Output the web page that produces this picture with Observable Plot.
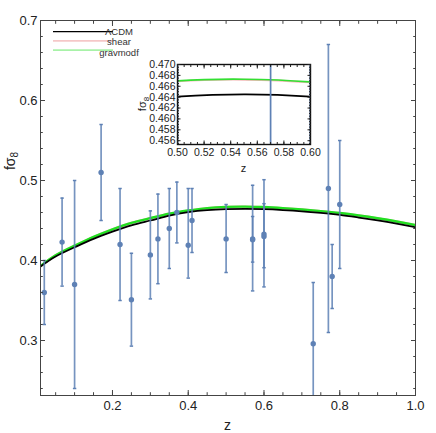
<!DOCTYPE html>
<html><head><meta charset="utf-8">
<script src="https://cdn.jsdelivr.net/npm/d3@7"></script>
<script src="https://cdn.jsdelivr.net/npm/@observablehq/plot@0.6"></script>
<style>
body{margin:0;background:#fff;}
#wrap{position:relative;width:436px;height:433px;font-family:"Liberation Sans",Arial,sans-serif;}
#inset{position:absolute;left:130px;top:55px;}
</style></head><body><div id="wrap"><div id="main"></div><div id="inset"></div></div>
<script>
// observational data
const zObs  = [0.02, 0.067, 0.10, 0.17, 0.22, 0.25, 0.30, 0.32, 0.35, 0.37, 0.40, 0.41, 0.50, 0.57, 0.57, 0.60, 0.60, 0.73, 0.77, 0.78, 0.80];
const fObs  = [0.36, 0.423, 0.37, 0.51, 0.42, 0.351, 0.407, 0.427, 0.44, 0.460, 0.419, 0.45, 0.427, 0.427, 0.426, 0.433, 0.43, 0.296, 0.49, 0.38, 0.47];
const loObs = [0.32, 0.368, 0.24, 0.45, 0.35, 0.293, 0.352, 0.371, 0.39, 0.422, 0.378, 0.41, 0.385, 0.362, 0.398, 0.367, 0.391, 0.2195, 0.31, 0.34, 0.39];
const hiObs = [0.40, 0.478, 0.50, 0.57, 0.49, 0.409, 0.462, 0.483, 0.49, 0.498, 0.49, 0.49, 0.47, 0.494, 0.455, 0.501, 0.471, 0.3725, 0.67, 0.42, 0.55];

// model curves
const zCurve   = [0.01, 0.05, 0.10, 0.15, 0.20, 0.25, 0.30, 0.35, 0.40, 0.45, 0.50, 0.55, 0.60, 0.65, 0.70, 0.75, 0.80, 0.85, 0.90, 0.95, 1.00];
const lcdm     = [0.3925, 0.405, 0.4165, 0.427, 0.436, 0.444, 0.450, 0.456, 0.4605, 0.4630, 0.4641, 0.4645, 0.4641, 0.4630, 0.4615, 0.4595, 0.457, 0.4537, 0.4502, 0.4462, 0.4417];
const shear    = [0.3928, 0.4064, 0.4184, 0.4294, 0.4389, 0.4469, 0.4529, 0.4584, 0.4624, 0.4654, 0.4669, 0.4672, 0.4667, 0.4654, 0.4637, 0.4616, 0.4592, 0.4562, 0.4527, 0.4487, 0.4442];
const gravmodf = [0.393, 0.4065, 0.4185, 0.4295, 0.439, 0.447, 0.453, 0.4585, 0.4625, 0.4655, 0.4670, 0.4673, 0.4668, 0.4655, 0.4638, 0.4617, 0.4593, 0.4563, 0.4528, 0.4488, 0.4443];

const seriesNames = ["ΛCDM", "shear", "gravmodf"];
const xMajor = [0.2, 0.4, 0.6, 0.8, 1.0];
const yMajor = [0.3, 0.4, 0.5, 0.6, 0.7];
const xInsetMajor = [0.50, 0.52, 0.54, 0.56, 0.58, 0.60];
const yInsetMajor = [0.456, 0.458, 0.460, 0.462, 0.464, 0.466, 0.468, 0.470];

const obs = zObs.map((z, i) => ({z, f: fObs[i], lo: loObs[i], hi: hiObs[i]}));
const curves = zCurve.map((z, i) => ({z, lcdm: lcdm[i], shear: shear[i], grav: gravmodf[i]}));

const blue = "#5E81B5";
const font = "Liberation Sans, Arial, sans-serif";
const xMinor = d3.range(0.05, 1.0001, 0.05);
const yMinor = d3.range(0.24, 0.7001, 0.02);
const xInsetMinor = d3.range(0.5, 0.6001, 0.005);
const yInsetMinor = d3.range(0.4555, 0.4701, 0.0005);
const blank = () => "";

function frameTicks(xMaj, xMin, yMaj, yMin, big, small, color) {
  const o = {stroke: color, label: null, tickFormat: blank};
  return [
    Plot.axisX(xMaj, {...o, anchor: "bottom", tickSize: -big}),
    Plot.axisX(xMin, {...o, anchor: "bottom", tickSize: -small}),
    Plot.axisX(xMaj, {...o, anchor: "top", tickSize: -big}),
    Plot.axisX(xMin, {...o, anchor: "top", tickSize: -small}),
    Plot.axisY(yMaj, {...o, anchor: "left", tickSize: -big}),
    Plot.axisY(yMin, {...o, anchor: "left", tickSize: -small}),
    Plot.axisY(yMaj, {...o, anchor: "right", tickSize: -big}),
    Plot.axisY(yMin, {...o, anchor: "right", tickSize: -small})
  ];
}

const main = Plot.plot({
  width: 436, height: 433,
  marginLeft: 40, marginRight: 21, marginTop: 20, marginBottom: 38,
  style: {fontFamily: font, fontSize: "13px", background: "white", color: "#222"},
  x: {domain: [0.01, 1]},
  y: {domain: [0.23125, 0.7]},
  marks: [
    Plot.line(curves, {x: "z", y: "shear", stroke: "#f3b8b8", strokeWidth: 2.4, curve: "natural", clip: true}),
    Plot.line(curves, {x: "z", y: "grav", stroke: "#22e022", strokeWidth: 2.4, curve: "natural", clip: true}),
    Plot.line(curves, {x: "z", y: "lcdm", stroke: "#000", strokeWidth: 1.8, curve: "natural", clip: true}),
    Plot.ruleX(obs, {x: "z", y1: "lo", y2: "hi", stroke: blue, strokeWidth: 1.7, strokeOpacity: 0.85, clip: true}),
    Plot.link(obs, {x1: d => d.z - 0.0045, x2: d => d.z + 0.0045, y1: "hi", y2: "hi", stroke: blue, strokeWidth: 1.5, clip: true}),
    Plot.link(obs, {x1: d => d.z - 0.0045, x2: d => d.z + 0.0045, y1: "lo", y2: "lo", stroke: blue, strokeWidth: 1.5, clip: true}),
    Plot.dot(obs, {x: "z", y: "f", r: 2.7, fill: blue, clip: true}),
    Plot.frame({stroke: "#444", strokeWidth: 1}),
    ...frameTicks(xMajor, xMinor, yMajor, yMinor, 5, 2.8, "#444"),
    Plot.axisX(xMajor, {tickSize: 0, tickPadding: 5, tickFormat: d => d.toFixed(1), label: null, fontSize: 13}),
    Plot.axisY(yMajor, {tickSize: 0, tickPadding: 3, tickFormat: d => d.toFixed(1), label: null, fontSize: 13})
  ]
});
document.getElementById("main").appendChild(main);

const msvg = d3.select(main);
msvg.append("text").attr("x", 227.5).attr("y", 430).attr("text-anchor", "middle")
  .attr("font-size", 14).attr("font-family", font).attr("fill", "#222").text("z");
const my = msvg.append("text").attr("transform", "translate(15,161) rotate(-90)").attr("text-anchor", "middle")
  .attr("font-size", 14).attr("font-family", font).attr("fill", "#222");
my.append("tspan").text("fσ");
my.append("tspan").attr("font-size", 10).attr("dy", 3).text("8");

// legend
const legColors = ["#000", "#f5c8c8", "#a8f2a8"];
const leg = msvg.append("g").attr("font-family", font).attr("font-size", 9.5).attr("fill", "#333");
seriesNames.forEach((name, i) => {
  const y = 31.7 + i * 9.2;
  leg.append("line").attr("x1", 53).attr("x2", 113).attr("y1", y).attr("y2", y)
    .attr("stroke", legColors[i]).attr("stroke-width", i === 0 ? 1.2 : 1.8);
  leg.append("text").attr("x", 119).attr("y", 31.7 + i * 10.3 + 3.3).text(name);
});

const inset = Plot.plot({
  width: 190, height: 125,
  marginLeft: 47, marginRight: 10, marginTop: 9, marginBottom: 36,
  style: {fontFamily: font, fontSize: "10.5px", background: "transparent", color: "#222", overflow: "visible"},
  x: {domain: [0.5, 0.6]},
  y: {domain: [0.4553, 0.470]},
  marks: [
    Plot.frame({fill: "white"}),
    Plot.line(curves, {x: "z", y: "shear", stroke: "#f3b8b8", strokeWidth: 1.8, curve: "natural", clip: true}),
    Plot.line(curves, {x: "z", y: "grav", stroke: "#33e033", strokeWidth: 1.6, curve: "natural", clip: true}),
    Plot.line(curves, {x: "z", y: "lcdm", stroke: "#000", strokeWidth: 1.8, curve: "natural", clip: true}),
    Plot.ruleX(obs, {x: "z", y1: "lo", y2: "hi", stroke: blue, strokeWidth: 1.7, clip: true}),
    Plot.frame({stroke: "#111", strokeWidth: 1.4}),
    ...frameTicks(xInsetMajor, xInsetMinor, yInsetMajor, yInsetMinor, 3.5, 2, "#222"),
    Plot.axisX(xInsetMajor, {tickSize: 0, tickPadding: 4, tickFormat: d => d.toFixed(2), label: null, fontSize: 10.5}),
    Plot.axisY(yInsetMajor, {tickSize: 0, tickPadding: 2, tickFormat: d => d.toFixed(3), label: null, fontSize: 10.5})
  ]
});
document.getElementById("inset").appendChild(inset);
const isvg = d3.select(inset);
isvg.append("text").attr("x", 113.5).attr("y", 117).attr("text-anchor", "middle")
  .attr("font-size", 11).attr("font-family", font).attr("fill", "#222").text("z");
const iy = isvg.append("text").attr("transform", "translate(16,49) rotate(-90)").attr("text-anchor", "middle")
  .attr("font-size", 11).attr("font-family", font).attr("fill", "#222");
iy.append("tspan").text("fσ");
iy.append("tspan").attr("font-size", 8).attr("dy", 2.5).text("8");
</script></body></html>
